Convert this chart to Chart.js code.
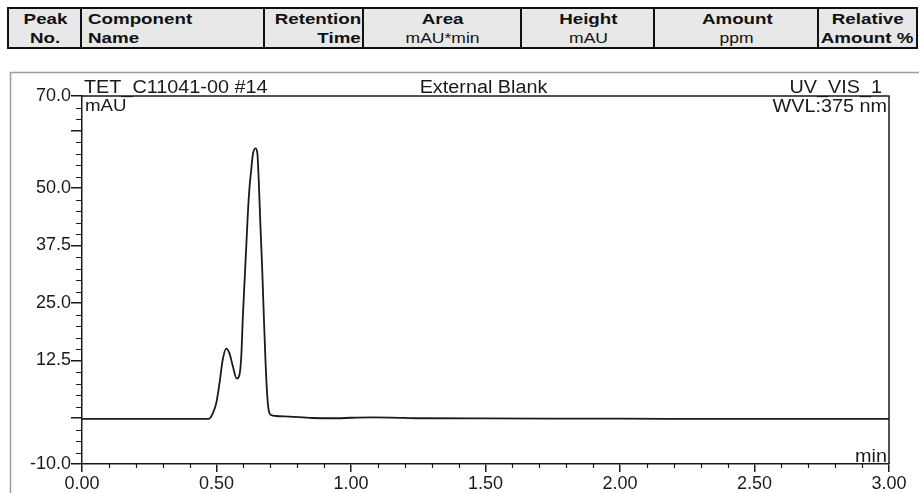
<!DOCTYPE html>
<html><head><meta charset="utf-8">
<script src="https://cdn.jsdelivr.net/npm/chart.js@4.4.0/dist/chart.umd.min.js"></script>
<style>
html,body{margin:0;padding:0;background:#fff;width:919px;height:493px;overflow:hidden;font-family:"Liberation Sans",Arial,sans-serif;color:#111;}
#wrap{position:relative;width:919px;height:493px;}
canvas{position:absolute;left:0;top:0;}
.col{position:absolute;top:7px;height:42px;box-sizing:border-box;background:#e8e8e8;border-top:2px solid #111;border-bottom:2px solid #111;border-left:2px solid #111;}
.col.last{border-right:2px solid #111;}
.t{position:absolute;left:0;right:0;height:18px;line-height:18px;white-space:nowrap;font-size:15px;}
.t span{display:inline-block;transform:scaleX(1.25);}
.r1{top:1px;} .r2{top:20px;}
.b{font-weight:bold;}
.n{font-size:14px;}
.c{text-align:center;} .c span{transform-origin:center;}
.l{text-align:left;padding-left:6px;} .l span{transform-origin:left;}
.rt{text-align:right;padding-right:3px;} .rt span{transform-origin:right;}
</style>
</head><body>
<div id="wrap">
<canvas id="c" width="919" height="493"></canvas>
<div class="col" style="left:7px;width:75px;"><div class="t r1 b c"><span>Peak</span></div><div class="t r2 b c"><span>No.</span></div></div>
<div class="col" style="left:80px;width:185px;"><div class="t r1 b l"><span>Component</span></div><div class="t r2 b l"><span>Name</span></div></div>
<div class="col" style="left:263px;width:101px;"><div class="t r1 b rt"><span>Retention</span></div><div class="t r2 b rt"><span>Time</span></div></div>
<div class="col" style="left:362px;width:160px;"><div class="t r1 b c"><span>Area</span></div><div class="t r2 n c"><span>mAU*min</span></div></div>
<div class="col" style="left:520px;width:135px;"><div class="t r1 b c"><span>Height</span></div><div class="t r2 n c"><span>mAU</span></div></div>
<div class="col" style="left:653px;width:166px;"><div class="t r1 b c"><span>Amount</span></div><div class="t r2 n c"><span>ppm</span></div></div>
<div class="col last" style="left:817px;width:101px;"><div class="t r1 b c"><span>Relative</span></div><div class="t r2 b c"><span>Amount %</span></div></div>
</div>
<script>
// Retention time (min) and detector signal (mAU)
const times  = [0.00, 0.20, 0.40, 0.465, 0.474, 0.486, 0.499, 0.511, 0.523, 0.536, 0.548, 0.561, 0.575, 0.585, 0.592, 0.598, 0.604, 0.610, 0.616, 0.622, 0.629, 0.635, 0.645, 0.652, 0.657, 0.663, 0.670, 0.676, 0.682, 0.688, 0.694, 0.703, 0.721, 0.771, 0.857, 0.95, 1.00, 1.08, 1.15, 1.25, 1.50, 2.00, 2.50, 3.00];
const signal = [-0.2, -0.2, -0.2, -0.2, -0.1, 1.0, 3.2, 7.5, 12.6, 15.1, 14.1, 11.2, 8.6, 9.3, 13.3, 22.0, 29.3, 36.5, 43.8, 49.6, 53.9, 57.2, 58.6, 57.5, 51.7, 42.3, 32.2, 22.0, 12.6, 5.4, 1.7, 0.65, 0.43, 0.3, 0.0, -0.05, 0.05, 0.12, 0.1, -0.05, -0.1, -0.15, -0.2, -0.2];

const xMajorTicks = [0, 0.5, 1, 1.5, 2, 2.5, 3];
const xTickLabels = ['0.00', '0.50', '1.00', '1.50', '2.00', '2.50', '3.00'];
const yMajorTicks = [-10, 0, 12.5, 25, 37.5, 50, 62.5, 70];
const yTickLabels = ['-10.0', '', '12.5', '25.0', '37.5', '50.0', '', '70.0'];
const xMinorStep = 0.1;
const yMinorStep = 2.5;

const titleLeft = 'TET_C11041-00 #14';
const titleCenter = 'External Blank';
const titleRight = 'UV_VIS_1';
const yUnit = 'mAU';
const wavelength = 'WVL:375 nm';
const xUnit = 'min';

const INK = '#1a1a1a';
const FONT = '"Liberation Sans", Arial, sans-serif';

function stretchedText(ctx, str, x, y, align, size, sx) {
  ctx.save();
  ctx.font = size + 'px ' + FONT;
  ctx.fillStyle = INK;
  ctx.textAlign = align;
  ctx.textBaseline = 'alphabetic';
  ctx.translate(x, y);
  ctx.scale(sx, 1);
  ctx.fillText(str, 0, 0);
  ctx.restore();
}

const decor = {
  id: 'decor',
  afterDraw(chart) {
    const ctx = chart.ctx;
    const a = chart.chartArea;
    const xs = chart.scales.x, ys = chart.scales.y;
    ctx.save();
    // outer grey frame
    ctx.strokeStyle = '#9c9c9c';
    ctx.lineWidth = 1.5;
    ctx.beginPath();
    ctx.moveTo(10.5, 493); ctx.lineTo(10.5, 72.5); ctx.lineTo(919, 72.5);
    ctx.stroke();
    // plot box top & right
    ctx.strokeStyle = INK;
    ctx.lineWidth = 1.5;
    ctx.beginPath();
    ctx.moveTo(a.left, a.top); ctx.lineTo(a.right, a.top); ctx.lineTo(a.right, a.bottom);
    ctx.stroke();
    // minor ticks
    ctx.lineWidth = 1.2;
    ctx.beginPath();
    for (let v = ys.min; v <= ys.max + 1e-9; v += yMinorStep) {
      const vv = Math.round(v * 100) / 100;
      if (yMajorTicks.includes(vv)) continue;
      const py = Math.round(ys.getPixelForValue(vv)) + 0.5;
      ctx.moveTo(a.left - 6, py); ctx.lineTo(a.left, py);
    }
    for (let v = xs.min; v <= xs.max + 1e-9; v += xMinorStep) {
      const vv = Math.round(v * 100) / 100;
      if (xMajorTicks.includes(vv)) continue;
      const px = Math.round(xs.getPixelForValue(vv)) + 0.5;
      ctx.moveTo(px, a.bottom); ctx.lineTo(px, a.bottom + 4);
    }
    ctx.stroke();
    ctx.restore();
    // texts
    stretchedText(ctx, titleLeft, a.left + 2, 93, 'left', 18, 1.1);
    stretchedText(ctx, titleCenter, (a.left + a.right) / 2 - 2, 93, 'center', 18, 1.1);
    stretchedText(ctx, titleRight, a.right - 7, 93, 'right', 18, 1.1);
    stretchedText(ctx, yUnit, a.left + 3, 111, 'left', 17, 1.1);
    stretchedText(ctx, wavelength, a.right - 2, 112, 'right', 18, 1.1);
    stretchedText(ctx, xUnit, a.right - 2, 462, 'right', 18, 1.1);
  }
};

new Chart(document.getElementById('c'), {
  type: 'line',
  data: {
    datasets: [{
      data: times.map((t, i) => ({ x: t, y: signal[i] })),
      borderColor: INK,
      borderWidth: 1.8,
      pointRadius: 0,
      fill: false,
      cubicInterpolationMode: 'monotone'
    }]
  },
  options: {
    responsive: false,
    animation: false,
    events: [],
    layout: { padding: { top: 96, right: 30, left: 0, bottom: 0 } },
    plugins: { legend: { display: false }, tooltip: { enabled: false } },
    scales: {
      x: {
        type: 'linear', min: 0, max: 3,
        afterBuildTicks: s => { s.ticks = xMajorTicks.map(v => ({ value: v })); },
        afterFit: s => { s.height = 29; },
        ticks: {
          callback: (v, i) => xTickLabels[i],
          font: { family: FONT, size: 18 }, color: INK,
          padding: 1, maxRotation: 0, autoSkip: false
        },
        grid: { drawOnChartArea: false, drawTicks: true, tickLength: 8, color: INK, lineWidth: 1.5 },
        border: { display: true, color: INK, width: 1.5 }
      },
      y: {
        type: 'linear', min: -10, max: 70,
        afterBuildTicks: s => { s.ticks = yMajorTicks.map(v => ({ value: v })); },
        afterFit: s => { s.width = 82; },
        ticks: {
          callback: (v, i) => yTickLabels[i],
          font: { family: FONT, size: 18 }, color: INK,
          padding: 0, autoSkip: false
        },
        grid: { drawOnChartArea: false, drawTicks: true, tickLength: 11, color: INK, lineWidth: 1.5 },
        border: { display: true, color: INK, width: 1.5 }
      }
    }
  },
  plugins: [decor]
});
</script>
</body></html>
